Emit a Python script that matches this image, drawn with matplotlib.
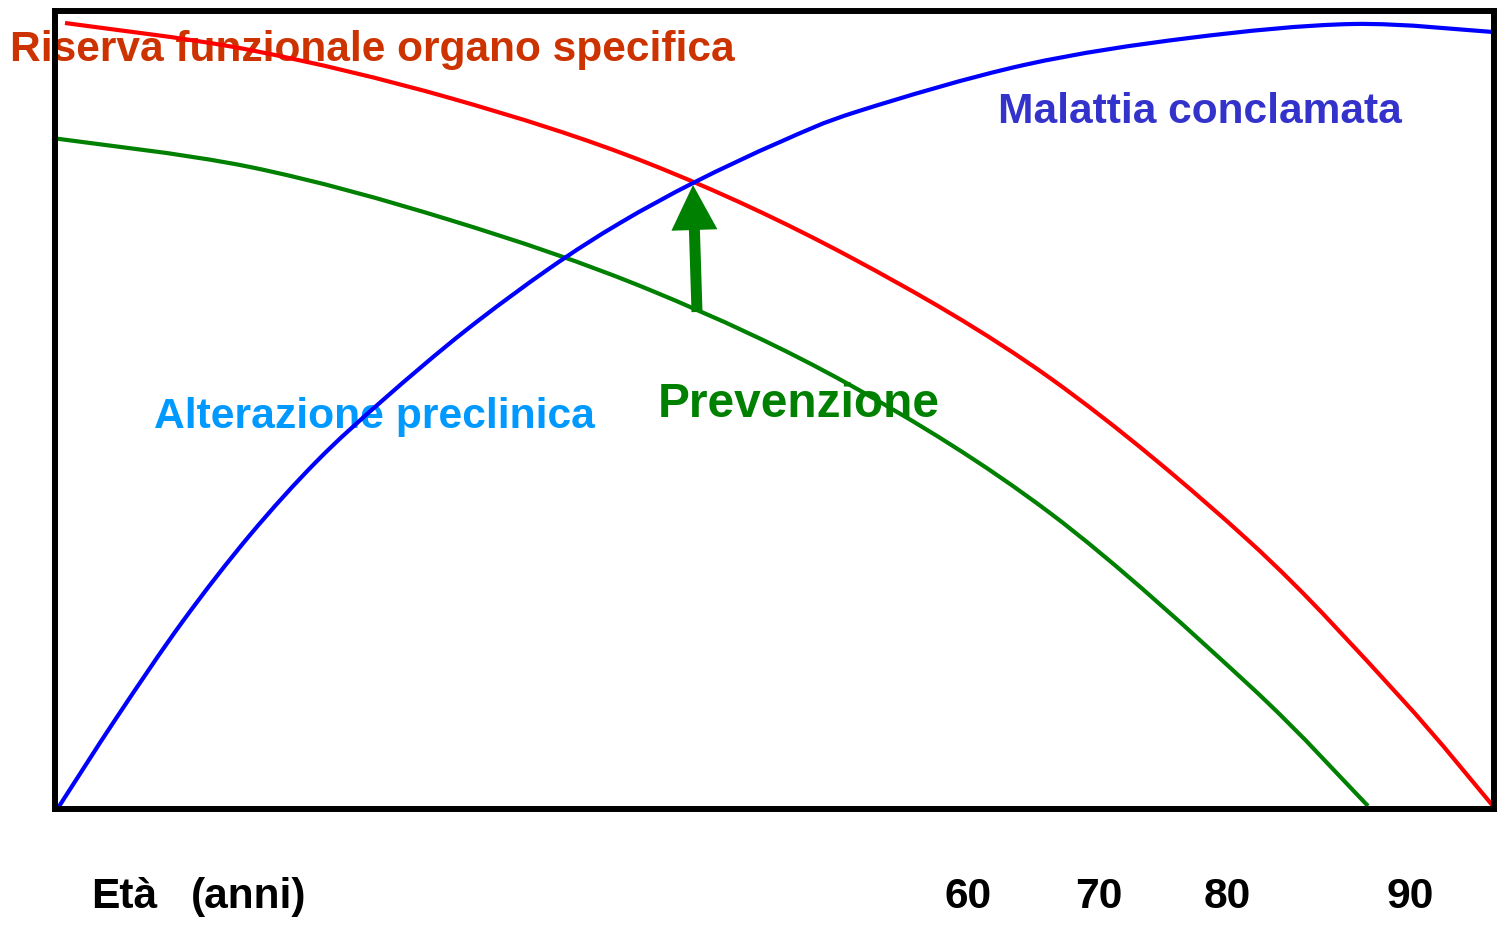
import matplotlib
matplotlib.use("Agg")
import matplotlib.pyplot as plt
from matplotlib.patches import Rectangle, FancyArrow, PathPatch
from matplotlib.path import Path

plt.rcParams["font.family"] = ["Liberation Sans", "DejaVu Sans"]

# curves, in pixel coordinates of the 1505x925 canvas
red_x = [65, 250, 450, 650, 850, 1050, 1250, 1400, 1493]
red_y = [23, 50, 98, 164, 257, 378, 542, 697, 806]

green_x = [52, 250, 450, 650, 850, 1050, 1250, 1368]
green_y = [138, 167, 220, 290, 385, 513, 686, 806]

blue_x = [58, 117, 183, 250, 317, 383, 465, 550, 620, 695, 780, 859, 1024, 1189, 1353, 1493]
blue_y = [808, 717, 621, 535, 461, 400, 331, 268, 223, 182, 142, 111, 65, 38, 24, 32]

# prevention arrow: from the green curve up to the red/blue crossing
arrow_start = (697, 312)
arrow_end = (693, 185)

age_ticks = ["60", "70", "80", "90"]
age_tick_x = [945, 1075, 1204, 1387]


def smooth_path(xs, ys):
    # catmull-rom style bezier path through the read points
    pts = list(zip(xs, ys))
    verts = [pts[0]]
    codes = [Path.MOVETO]
    n = len(pts)
    for i in range(n - 1):
        p0 = pts[max(i - 1, 0)]
        p1 = pts[i]
        p2 = pts[i + 1]
        p3 = pts[min(i + 2, n - 1)]
        c1 = (p1[0] + (p2[0] - p0[0]) / 6, p1[1] + (p2[1] - p0[1]) / 6)
        c2 = (p2[0] - (p3[0] - p1[0]) / 6, p2[1] - (p3[1] - p1[1]) / 6)
        verts += [c1, c2, p2]
        codes += [Path.CURVE4] * 3
    return Path(verts, codes)


fig = plt.figure(figsize=(15.05, 9.25), dpi=100)
ax = fig.add_axes([0, 0, 1, 1])
ax.set_xlim(0, 1505)
ax.set_ylim(925, 0)
ax.axis("off")

# labels (drawn under the curves)
ax.text(10, 61, "Riserva funzionale organo specifica", color="#CC3300",
        fontsize=30.6, fontweight="bold", va="baseline", zorder=1)
ax.text(998, 123, "Malattia conclamata", color="#3333CC",
        fontsize=30.6, fontweight="bold", va="baseline", zorder=1)
ax.text(154, 428, "Alterazione preclinica", color="#0099FF",
        fontsize=30.7, fontweight="bold", va="baseline", zorder=1)
ax.text(658, 417, "Prevenzione", color="#008000",
        fontsize=34.5, fontweight="bold", va="baseline", zorder=1)

# curves
for xs, ys, col in [(red_x, red_y, "#FF0000"),
                    (green_x, green_y, "#008000"),
                    (blue_x, blue_y, "#0000FF")]:
    ax.add_patch(PathPatch(smooth_path(xs, ys), fill=False, ec=col, lw=3,
                           capstyle="butt", zorder=3))

dx = arrow_end[0] - arrow_start[0]
dy = arrow_end[1] - arrow_start[1]
ax.add_patch(FancyArrow(arrow_start[0], arrow_start[1], dx, dy, width=11,
                        head_width=46, head_length=45, length_includes_head=True,
                        color="#008000", lw=0, zorder=4))

# frame
ax.add_patch(Rectangle((54.5, 10.5), 1439, 798.5, fill=False, ec="black",
                       lw=4.3, zorder=5))

# age axis text
ax.text(91, 908, "Età", fontsize=30.6, fontweight="bold", va="baseline")
ax.text(191, 908, "(anni)", fontsize=30.6, fontweight="bold", va="baseline")
for lab, x in zip(age_ticks, age_tick_x):
    ax.text(x, 908, lab, fontsize=30.6, fontweight="bold", va="baseline")

fig.savefig("out.png", dpi=100)
